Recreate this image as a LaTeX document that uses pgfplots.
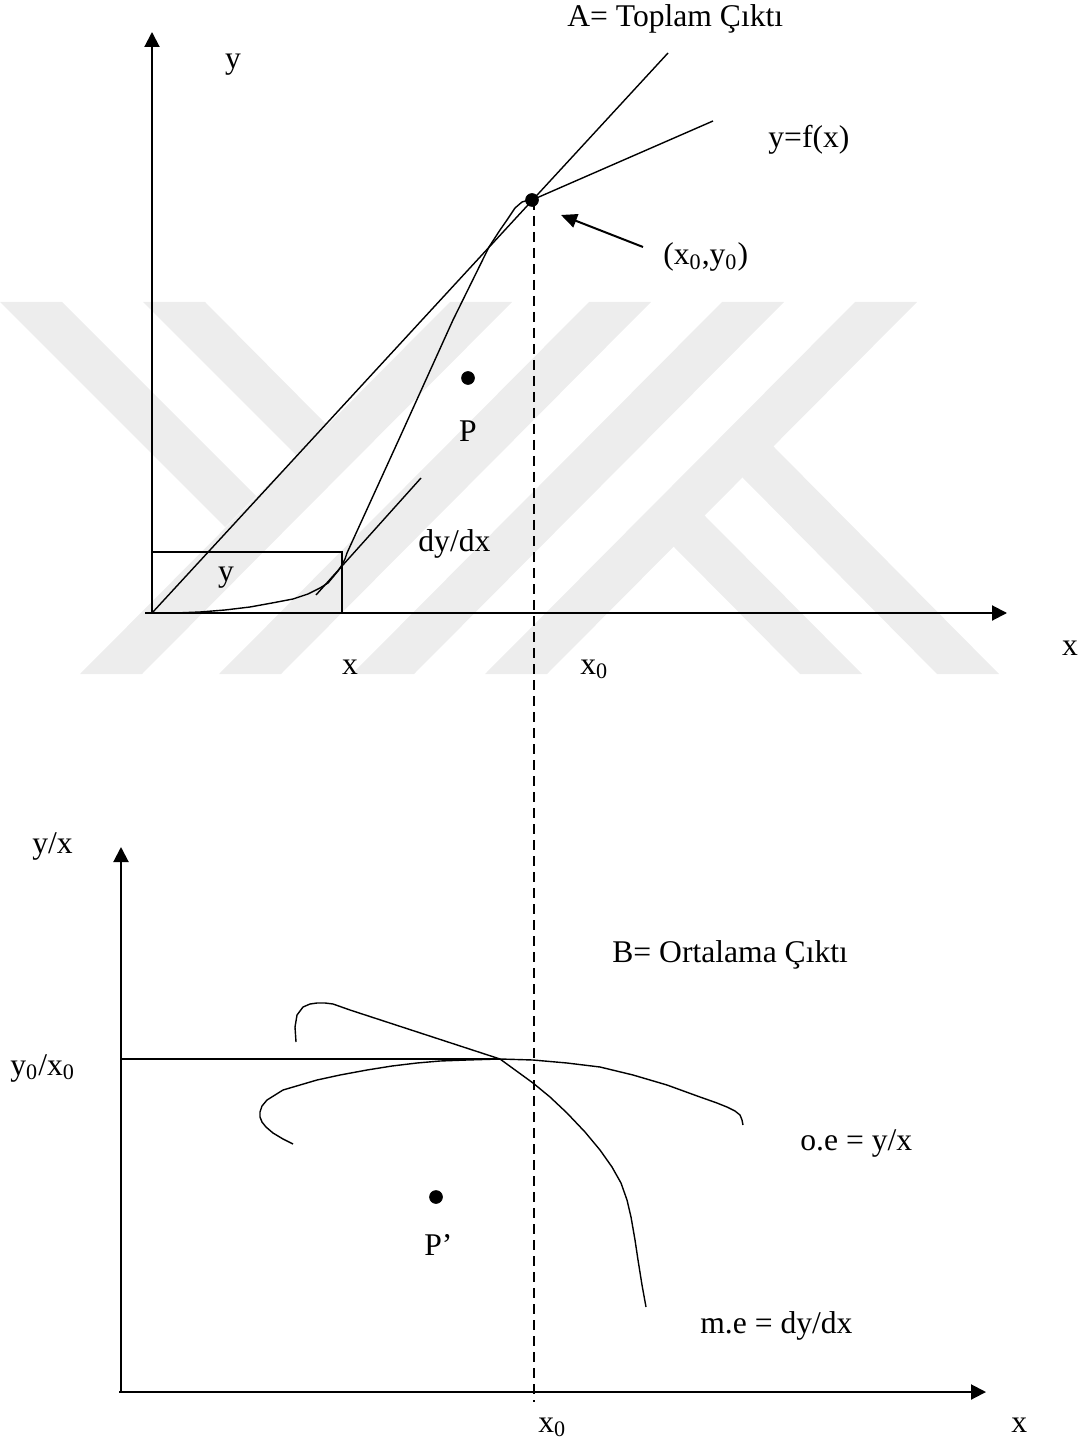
\documentclass[border=0pt]{standalone}
\usepackage{fontspec}
\setmainfont{Liberation Serif}
\usepackage{pgfplots}
\pgfplotsset{compat=1.18}
\usetikzlibrary{arrows.meta}
\definecolor{wm}{RGB}{237,237,237}

\begin{document}
\begin{tikzpicture}[
  lbl/.style={font=\fontsize{15.8}{18}\selectfont, inner sep=0pt, anchor=base west},
  lblc/.style={font=\fontsize{15.8}{18}\selectfont, inner sep=0pt, anchor=base}]
\begin{axis}[
  scale only axis, width=540.5pt, height=721.5pt,
  xmin=0, xmax=1081, ymin=0, ymax=1443, y dir=reverse,
  hide axis, clip=false]
% frame (invisible) for the bounding box
\addplot[draw=none, forget plot] coordinates {(0,0) (1081,1443)};

% ---------------- watermark (light grey bands) ----------------
\addplot[fill=wm, draw=none] coordinates {(450,302) (512,302) (142,674) (80,674)} -- cycle;
\addplot[fill=wm, draw=none] coordinates {(589,302) (651,302) (281,674) (219,674)} -- cycle;
\addplot[fill=wm, draw=none] coordinates {(722,302) (784,302) (414,674) (352,674)} -- cycle;
\addplot[fill=wm, draw=none] coordinates {(855,302) (917,302) (547,674) (485,674)} -- cycle;
\addplot[fill=wm, draw=none] coordinates {(0,302) (62,302) (256,496) (225,527)} -- cycle;
\addplot[fill=wm, draw=none] coordinates {(143,302) (205,302) (327,425) (297,456)} -- cycle;
\addplot[fill=wm, draw=none] coordinates {(673,546) (704,515) (862,674) (800,674)} -- cycle;
\addplot[fill=wm, draw=none] coordinates {(742,477) (773,446) (999,674) (937,674)} -- cycle;

% ---------------- top panel ----------------
% axes
\addplot[line width=1pt, -{Triangle[length=7.5pt,width=7.5pt]}] coordinates {(152,613) (152,32)};
\addplot[line width=1pt, -{Triangle[length=7.5pt,width=7.5pt]}] coordinates {(145,613) (1007,613)};
% box
\addplot[line width=0.7pt] coordinates {(152,552) (342,552) (342,613)};
% ray from origin
\addplot[line width=0.7pt] coordinates {(152,613) (668,53)};
% production function y=f(x)
\addplot[line width=0.7pt] coordinates {
 (152,613) (175,613) (200,612) (225,610) (250,607) (272,603) (293,599)
 (308,594) (320,588) (328,583) (333,577) (338,571) (342,565) (345,559) (347,553)
 (400,437) (453,320) (489,247) (500,230) (507,220) (515,208) (522,202) (528,200.3) (532,200)
 (713,121)};
% tangent dy/dx
\addplot[line width=0.7pt] coordinates {(316,595) (421,478)};
% dashed vertical x0
\addplot[line width=0.6pt, dash pattern=on 5pt off 3pt] coordinates {(534,200) (534,1402)};
% arrow to (x0,y0)
\addplot[line width=1pt, -{Triangle[length=8pt,width=7pt]}] coordinates {(643,247) (561,215)};
% points
\addplot[only marks, mark=*, mark size=3.2pt, black] coordinates {(532,200) (468,378)};

\node[lbl] at (axis cs:567,27) {A= Toplam Çıktı};
\node[lblc] at (axis cs:233,69) {y};
\node[lbl] at (axis cs:768,148) {y=f(x)};
\node[lbl] at (axis cs:663,265) {(x\textsubscript{0},y\textsubscript{0})};
\node[lblc] at (axis cs:468,442) {P};
\node[lbl] at (axis cs:418,552) {dy/dx};
\node[lblc] at (axis cs:226,581) {y};
\node[lblc] at (axis cs:350,674) {x};
\node[lbl] at (axis cs:580,674) {x\textsubscript{0}};
\node[lblc] at (axis cs:1070,655) {x};

% ---------------- bottom panel ----------------
\addplot[line width=1pt, -{Triangle[length=7.5pt,width=7.5pt]}] coordinates {(121,1392) (121,847)};
\addplot[line width=1pt, -{Triangle[length=7.5pt,width=7.5pt]}] coordinates {(119,1392) (986,1392)};
% y0/x0 horizontal
\addplot[line width=0.7pt] coordinates {(121,1059) (500,1059)};
% marginal product m.e
\addplot[line width=0.7pt] coordinates {
 (296,1042) (295,1027) (297,1015) (303,1007) (310,1004) (317,1003) (325,1003) (333,1004) (350,1010)
 (500,1059) (533,1083) (550,1097) (567,1113) (585,1132) (600,1150) (612,1167) (621,1183) (627,1200)
 (631,1217) (635,1240) (638,1260) (642,1285) (646,1307)};
% average product o.e
\addplot[line width=0.7pt] coordinates {
 (293,1144) (283,1139) (273,1133) (266,1127) (262,1122) (260,1117) (260,1112) (262,1106) (267,1100)
 (275,1095) (283,1090) (300,1085) (317,1080) (340,1075) (367,1070) (392,1066) (417,1063) (440,1061) (467,1060)
 (500,1059) (533,1060) (567,1063) (600,1067) (633,1075) (667,1085) (700,1097) (717,1103) (727,1107)
 (735,1111) (740,1115) (742,1120) (743,1125)};
\addplot[only marks, mark=*, mark size=3.2pt, black] coordinates {(436,1197)};

\node[lbl] at (axis cs:32,853) {y/x};
\node[lbl] at (axis cs:10,1075) {y\textsubscript{0}/x\textsubscript{0}};
\node[lbl] at (axis cs:612,962) {B= Ortalama Çıktı};
\node[lbl] at (axis cs:800,1150) {o.e = y/x};
\node[lbl] at (axis cs:424,1255) {P’};
\node[lbl] at (axis cs:700,1333) {m.e = dy/dx};
\node[lbl] at (axis cs:538,1432) {x\textsubscript{0}};
\node[lbl] at (axis cs:1011,1432) {x};
\end{axis}
\end{tikzpicture}
\end{document}
